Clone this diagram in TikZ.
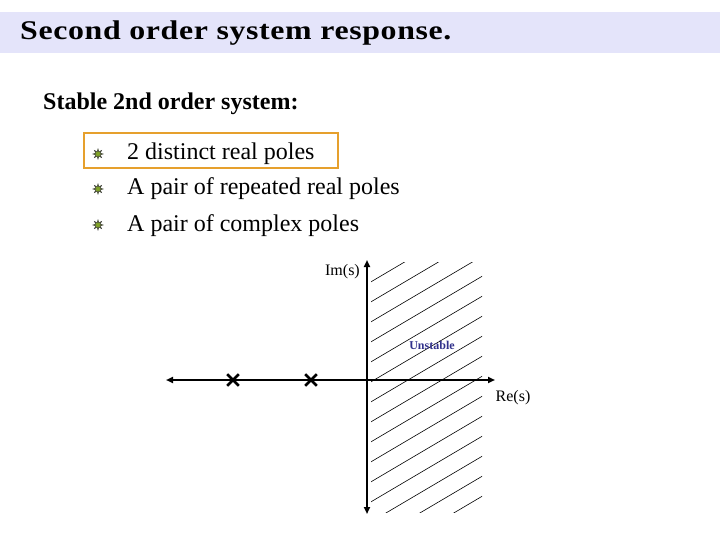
\documentclass[tikz,border=0pt]{standalone}
\usepackage{fontspec}
\setmainfont{Liberation Serif}
\usepackage{xcolor}
\usetikzlibrary{shapes.geometric, shapes.misc, positioning, arrows.meta}
\definecolor{bandblue}{RGB}{228,228,250}
\definecolor{boxorange}{RGB}{230,160,45}
\definecolor{bulletgreen}{RGB}{130,165,40}
\definecolor{labelblue}{RGB}{50,50,140}

\begin{document}
\begin{tikzpicture}[
    x=1pt,y=-1pt,
    bullet/.style={star, star points=8, star point ratio=2.2, minimum size=10pt, inner sep=0pt, fill=bulletgreen, draw=black!80, line width=0.5pt},
    item/.style={anchor=base west, inner sep=0pt, font=\fontsize{24}{28}\selectfont},
    axis/.style={line width=2.6pt, {Triangle[length=7pt,width=6pt]}-{Triangle[length=7pt,width=6pt]}},
    pole/.style={cross out, draw, line width=2.6pt, minimum size=9pt, inner sep=0pt},
    axlabel/.style={font=\fontsize{16}{18}\selectfont, inner sep=0pt}
]
    \useasboundingbox (0,0) rectangle (720,540);
    % Title
    \fill[bandblue] (0,12) rectangle (720,53);
    \node[anchor=base west, inner sep=0pt, font=\fontsize{27}{30}\selectfont\bfseries\addfontfeatures{LetterSpace=2}] (title) at (20,40) {\scalebox{1.18}[1]{Second order system response.}};

    % Stable system list
    \node[anchor=base west, inner sep=0pt, font=\fontsize{24}{28}\selectfont\bfseries] (head) at (43,110) {Stable 2nd order system:};
    \node[item] (i1) at (127,160) {2 distinct real poles};
    \node[item] (i2) at (127,195) {A pair of repeated real poles};
    \node[item] (i3) at (127,231) {A pair of complex poles};
    \node[bullet] (b1) at (98,154) {};
    \node[bullet] (b2) at (98,189) {};
    \node[bullet] (b3) at (98,225) {};
    \draw[boxorange, line width=2.5pt] (84,133) rectangle (338,168);

    % Unstable region
    \begin{scope}
        \clip (371,262) rectangle (482,512);
        \foreach \c in {0,20,...,340} {
            \draw[line width=0.6pt] (369,283+\c) -- ++(200,-118);
        }
    \end{scope}
    \node[font=\fontsize{12}{13}\selectfont\bfseries, text=labelblue, inner sep=0pt] (unst) at (432,345) {Unstable};

    % s-plane axes
    \coordinate (o) at (367,380);
    \coordinate (xl) at (166,380);
    \coordinate (xr) at (495,380);
    \coordinate (yt) at (367,260);
    \coordinate (yb) at (367,514);
    \draw[axis] (xl) -- (xr);
    \draw[axis] (yb) -- (yt);
    \node[axlabel, anchor=east] (im) at (360,272) {Im(s)};
    \node[axlabel] (re) at (513,398) {Re(s)};

    % Poles
    \node[pole] (p1) at (233,380) {};
    \node[pole] (p2) at (311,380) {};
\end{tikzpicture}
\end{document}
